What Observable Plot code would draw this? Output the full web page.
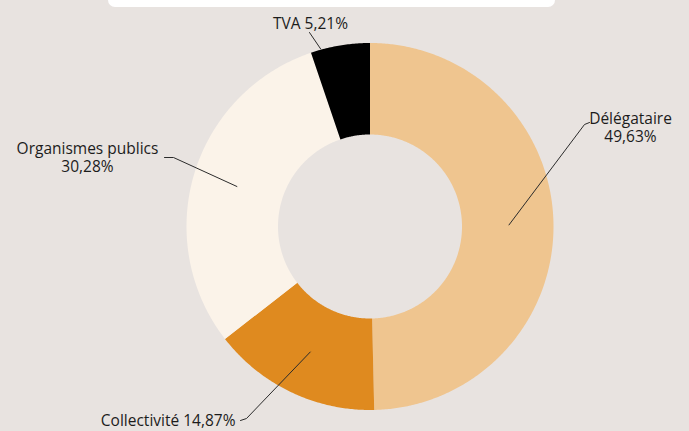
<!DOCTYPE html>
<html>
<head>
<meta charset="utf-8">
<script src="https://cdn.jsdelivr.net/npm/d3@7"></script>
<script src="https://cdn.jsdelivr.net/npm/@observablehq/plot@0.6"></script>
<style>
  html, body { margin: 0; padding: 0; background: #e8e3e0; }
  #wrap { position: relative; width: 689px; height: 431px; overflow: hidden; }
  #topbox { position: absolute; left: 108px; top: -20px; width: 447px; height: 27px; background: #ffffff; border-radius: 7px; }
  #chart { position: absolute; left: 0; top: 0; }
</style>
</head>
<body>
<div id="wrap"><div id="topbox"></div><div id="chart"></div></div>
<script>
// ---- data ----
const categories = ["Délégataire", "Collectivité", "Organismes publics", "TVA"];
const shares = [49.63, 14.87, 30.28, 5.21];
const labels = ["Délégataire\n49,63%", "Collectivité 14,87%", "Organismes publics\n30,28%", "TVA 5,21%"];
const colors = ["#efc58f", "#df8a1f", "#fbf3e9", "#000000"];

// ---- layout ----
const W = 689, H = 431;
const CX = 369.5, CY = 226, R_OUT = 183.5, R_IN = 92;
const FONT = 15.5;
// annotation layout per category: leader start (angle override / radius), leader path, text anchor
const annot = {
  "Délégataire":        {r: 139, path: [[584, 124], [589, 122]], tx: 630, ty: 122, anchor: "middle"},
  "Collectivité":       {r: 139, path: [[246, 418], [240, 420]], tx: 235, ty: 424, anchor: "end"},
  "Organismes publics": {r: 139, path: [[173, 157], [164, 157]], tx: 87,  ty: 152, anchor: "middle"},
  "TVA":                {angle: 344.5, r: 184, path: [[309, 32]], tx: 310, ty: 27, anchor: "middle"}
};

const total = d3.sum(shares);
const rad = (deg) => deg * Math.PI / 180;
const polar = (angDeg, r) => [CX + r * Math.sin(rad(angDeg)), CY - r * Math.cos(rad(angDeg))];

// slices (angles clockwise from 12 o'clock)
let acc = 0;
const slices = categories.map((c, i) => {
  const a0 = acc / total * 360;
  acc += shares[i];
  const a1 = acc / total * 360;
  return {category: c, value: shares[i], label: labels[i], color: colors[i], a0, a1, mid: (a0 + a1) / 2};
});

// ring polygons
const ringPts = [];
for (const s of slices) {
  const n = Math.max(2, Math.ceil((s.a1 - s.a0) / 0.5));
  const outer = d3.range(n + 1).map(k => s.a0 + (s.a1 - s.a0) * k / n);
  for (const a of outer) { const [x, y] = polar(a, R_OUT); ringPts.push({key: s.category, color: s.color, x, y}); }
  for (const a of outer.slice().reverse()) { const [x, y] = polar(a, R_IN); ringPts.push({key: s.category, color: s.color, x, y}); }
}

// leaders
const leaderPts = [];
for (const s of slices) {
  const L = annot[s.category];
  const [x0, y0] = polar(L.angle ?? s.mid, L.r);
  leaderPts.push({key: s.category, x: x0, y: y0});
  for (const [x, y] of L.path) leaderPts.push({key: s.category, x, y});
}

// texts
const textData = slices.map(s => {
  const L = annot[s.category];
  return {text: s.label, x: L.tx, y: L.ty - 0.71 * FONT, anchor: L.anchor};
});

const textStyle = {x: "x", y: "y", text: "text", lineAnchor: "top", lineHeight: 1.16, fontSize: FONT, fontWeight: 500, fill: "#1c1c1c"};

const plot = Plot.plot({
  width: W,
  height: H,
  margin: 0,
  x: {domain: [0, W], range: [0, W], axis: null},
  y: {domain: [0, H], range: [0, H], axis: null},
  color: {type: "identity"},
  style: {background: "transparent", fontFamily: "'Open Sans', 'Noto Sans', sans-serif", overflow: "visible"},
  marks: [
    Plot.line(ringPts, {x: "x", y: "y", z: "key", fill: "color", stroke: "none", curve: "linear-closed"}),
    Plot.line(leaderPts, {x: "x", y: "y", z: "key", stroke: "#2b2b2b", strokeWidth: 1, curve: "linear"}),
    Plot.text(textData.filter(d => d.anchor === "middle"), {...textStyle, textAnchor: "middle"}),
    Plot.text(textData.filter(d => d.anchor === "end"), {...textStyle, textAnchor: "end"})
  ]
});
document.getElementById("chart").appendChild(plot);
</script>
</body>
</html>
